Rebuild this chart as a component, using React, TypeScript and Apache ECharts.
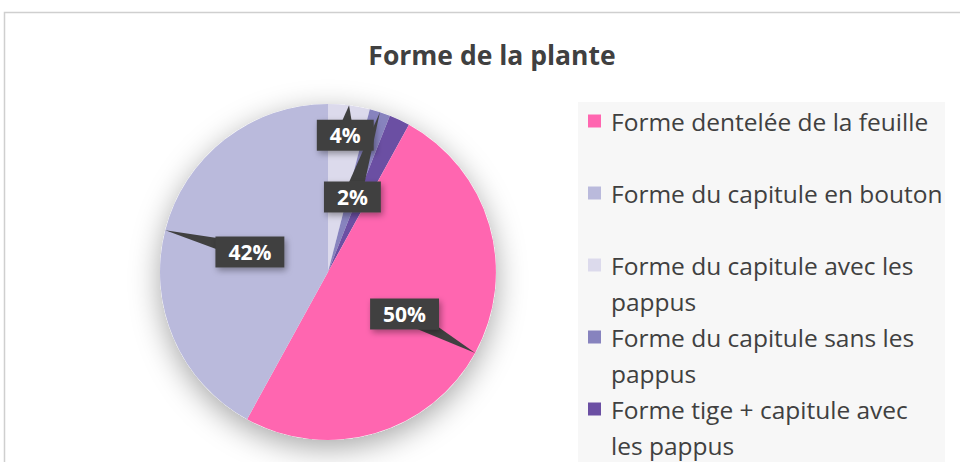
import React, { useEffect, useRef } from "react";
import * as echarts from "echarts";

// ---- data (clockwise from 12 o'clock) ----
const categories = [
  "Forme du capitule avec les pappus",
  "Forme du capitule sans les pappus",
  "Forme tige + capitule avec les pappus",
  "Forme dentelée de la feuille",
  "Forme du capitule en bouton",
];
const values = [4, 2, 2, 50, 42];
const showLabel = [true, true, false, true, true];
const sliceColors = ["#dcdaec", "#8783be", "#6b4fa3", "#ff66b0", "#babadc"];

// legend (as in the reference order), with wrapped lines
const legendOrder = [
  "Forme dentelée de la feuille",
  "Forme du capitule en bouton",
  "Forme du capitule avec les pappus",
  "Forme du capitule sans les pappus",
  "Forme tige + capitule avec les pappus",
];
const legendLines = [
  ["Forme dentelée de la feuille"],
  ["Forme du capitule en bouton"],
  ["Forme du capitule avec les", "pappus"],
  ["Forme du capitule sans les", "pappus"],
  ["Forme tige + capitule avec", "les pappus"],
];
const titleText = "Forme de la plante";

// ---- layout ----
const CX = 328;
const CY = 272;
const R = 168;
const labelRadius = [0.82, 0.47, 0.5, 0.52, 0.48];
const LEG_X = 588;
const LEG_Y0 = 121;
const LEG_STEP = 72;
const LEG_FONT = 24.5;
const FONT = "'Open Sans', sans-serif";
const DARK = "#404040";

export default function App() {
  const ref = useRef<HTMLDivElement>(null);
  useEffect(() => {
    if (!ref.current) return;
    const chart = echarts.init(ref.current, null, { renderer: "svg" });
    const total = values.reduce((a, b) => a + b, 0);

    const contTexts: any[] = [];
    legendLines.forEach((lines, i) => {
      lines.slice(1).forEach((t, k) => {
        contTexts.push({
          type: "text",
          x: LEG_X + 23,
          y: LEG_Y0 + i * LEG_STEP + (k + 1) * 36,
          z: 10,
          style: {
            text: t,
            fill: DARK,
            font: `${LEG_FONT}px ${FONT}`,
            verticalAlign: "middle",
            align: "left",
          },
        });
      });
    });

    chart.setOption({
      animation: false,
      backgroundColor: "#ffffff",
      title: {
        text: titleText,
        left: 487,
        top: 36,
        textAlign: "center",
        textStyle: { fontSize: 26.5, fontWeight: "bold", color: DARK, fontFamily: FONT },
      },
      graphic: [
        {
          type: "rect",
          shape: { x: 4.5, y: 12.5, width: 1000, height: 500 },
          style: { fill: "none", stroke: "#cfcfcf", lineWidth: 1.5 },
          z: 0,
        },
        {
          type: "rect",
          shape: { x: 578, y: 102, width: 367, height: 400 },
          style: { fill: "#f7f7f7" },
          z: 0,
        },
        ...contTexts,
      ],
      legend: {
        orient: "vertical",
        left: LEG_X,
        top: LEG_Y0 - 18,
        data: legendOrder,
        icon: "rect",
        itemWidth: 13,
        itemHeight: 13,
        itemGap: 36,
        padding: 0,
        formatter: (name: string) => legendLines[legendOrder.indexOf(name)][0],
        textStyle: { fontSize: LEG_FONT, color: DARK, fontFamily: FONT, lineHeight: 36, padding: [0, 0, 0, 5] },
      },
      series: [
        {
          type: "pie",
          name: "shadow",
          silent: true,
          center: [CX, CY],
          radius: R,
          z: 1,
          label: { show: false },
          labelLine: { show: false },
          data: [{ value: 1, name: "_bg", itemStyle: { color: "#ffffff", shadowBlur: 30, shadowOffsetY: 8, shadowColor: "rgba(0,0,0,0.35)" } }],
        },
        {
          type: "pie",
          name: "Forme de la plante",
          center: [CX, CY],
          radius: R,
          z: 2,
          startAngle: 90,
          clockwise: true,
          label: { show: false },
          labelLine: { show: false },
          data: categories.map((c, i) => ({
            name: c,
            value: values[i],
            itemStyle: { color: sliceColors[i] },
          })),
        },
        {
          type: "custom",
          name: "callouts",
          coordinateSystem: "none",
          silent: true,
          z: 3,
          data: values,
          renderItem: (params: any) => {
            const i = params.dataIndex;
            if (!showLabel[i]) return { type: "group", children: [] };
            const before = values.slice(0, i).reduce((a, b) => a + b, 0);
            const mid = ((before + values[i] / 2) / total) * Math.PI * 2;
            const f = labelRadius[i];
            const ux = Math.sin(mid);
            const uy = -Math.cos(mid);
            const x = CX + R * f * ux;
            const y = CY + R * f * uy;
            const ex = CX + R * ux;
            const ey = CY + R * uy;
            const hw = 9;
            const px = -uy * hw;
            const py = ux * hw;
            return {
              type: "group",
              children: [
                {
                  type: "polygon",
                  shape: {
                    points: [
                      [x + px, y + py],
                      [ex, ey],
                      [x - px, y - py],
                    ],
                  },
                  style: { fill: DARK },
                },
                {
                  type: "text",
                  x,
                  y,
                  style: {
                    text: Math.round((values[i] / total) * 100) + "%",
                    fill: "#ffffff",
                    font: `bold 21px ${FONT}`,
                    align: "center",
                    verticalAlign: "middle",
                    backgroundColor: DARK,
                    padding: [5, 13, 5, 13],
                    shadowColor: "rgba(0,0,0,0.35)",
                    shadowBlur: 6,
                    shadowOffsetX: 2,
                    shadowOffsetY: 3,
                  },
                },
              ],
            };
          },
        },
      ],
    });
    return () => chart.dispose();
  }, []);
  return (
    <div
      ref={ref}
      style={{ position: "absolute", left: 0, top: 0, width: 960, height: 462 }}
    />
  );
}
